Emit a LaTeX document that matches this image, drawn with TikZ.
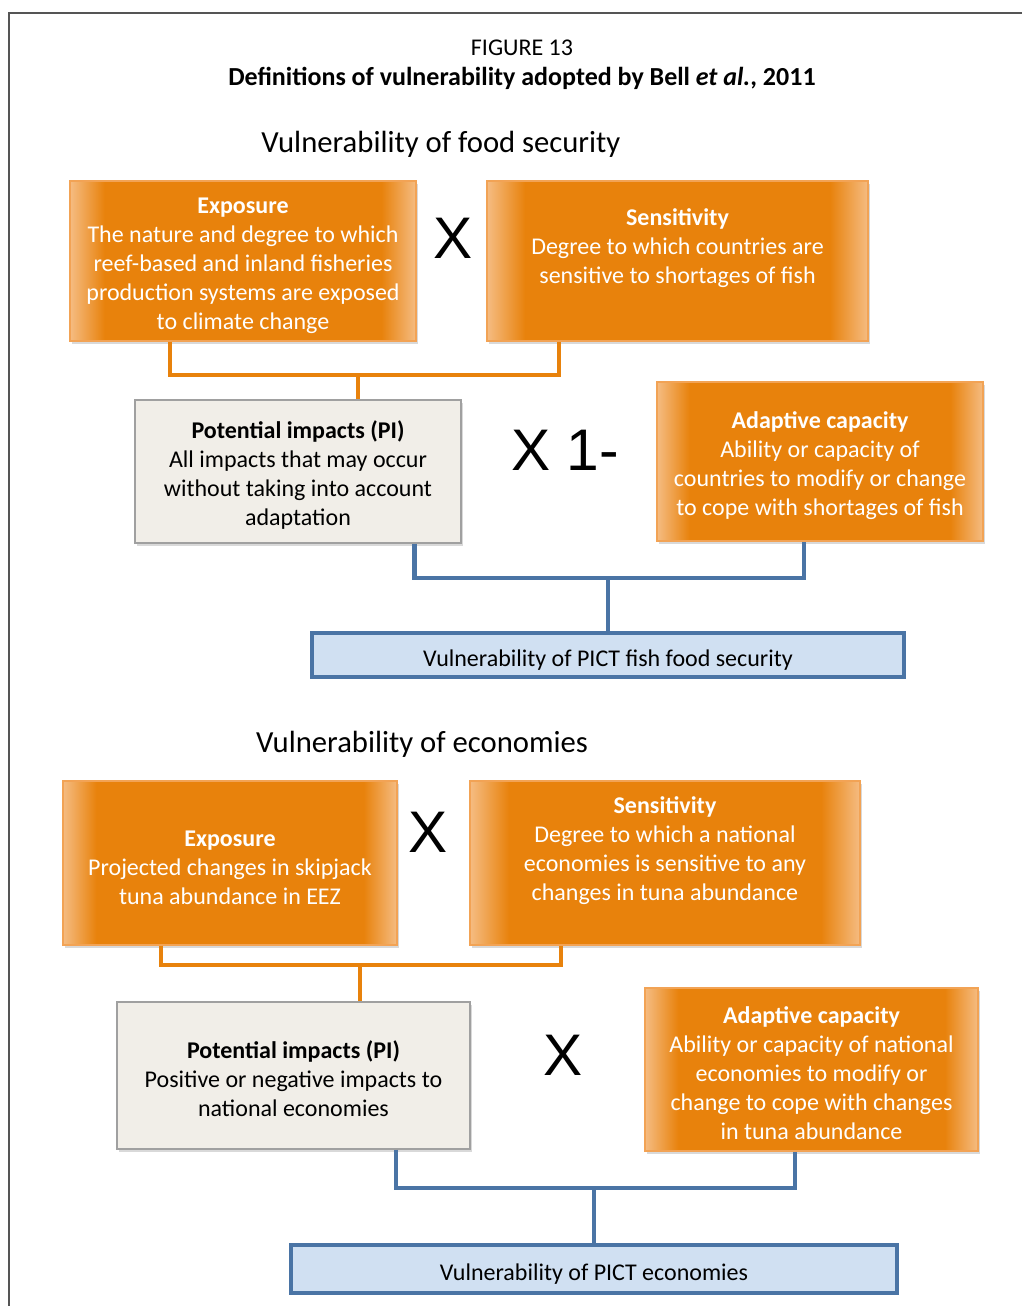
\documentclass[tikz,border=0pt]{standalone}
\usepackage{fontspec}
\setmainfont{Carlito}
\newfontfamily\arialfont{Liberation Sans}
\usetikzlibrary{positioning,shadows,calc}

\definecolor{ormain}{HTML}{E8820C}
\definecolor{orlight}{HTML}{F5BC82}
\definecolor{orline}{HTML}{F2A355}
\definecolor{pifill}{HTML}{F1EEE8}
\definecolor{piline}{HTML}{A0A0A0}
\definecolor{bluefill}{HTML}{D0E0F2}
\definecolor{blueline}{HTML}{4A74A5}
\definecolor{frameline}{HTML}{555555}

\pgfdeclarehorizontalshading{orangeedge}{100bp}{color(0bp)=(orlight); color(25bp)=(orlight); color(30bp)=(ormain); color(70bp)=(ormain); color(75bp)=(orlight); color(100bp)=(orlight)}

% strut on the first line of a box, to sit the text a little lower
\newcommand{\boxstrut}{\rule{0pt}{20pt}}
% bold first line of a box
\newcommand{\hdr}[1]{\rule{0pt}{18.5pt}\textbf{#1}}

\tikzset{
    %Define style for boxes
    factor/.style={
           rectangle,
           draw=orline, line width=1pt,
           shade, shading=orangeedge,
           text=white,
           inner sep=0pt,
           font=\fontsize{18}{21.75}\selectfont,
           align=center,
           drop shadow={shadow xshift=1.5pt, shadow yshift=-2pt, opacity=.3}},
    impact/.style={
           rectangle,
           draw=piline, line width=1pt,
           fill=pifill,
           inner sep=0pt,
           font=\fontsize{18}{21.75}\selectfont,
           align=center,
           drop shadow={shadow xshift=1.5pt, shadow yshift=-2pt, opacity=.3}},
    result/.style={
           rectangle,
           draw=blueline, line width=3.5pt,
           fill=bluefill,
           inner sep=0pt,
           font=\fontsize{18}{21.75}\selectfont,
           align=center,
           execute at begin node=\boxstrut},
    heading/.style={
           font=\fontsize{23}{28}\selectfont},
    times/.style={
           font=\arialfont\fontsize{44}{44}\selectfont},
    % Define connector styles
    orangeline/.style={
           draw=ormain, line width=3pt},
    blueconn/.style={
           draw=blueline, line width=3.2pt}
}

\begin{document}
\begin{tikzpicture}[x=0.75pt,y=-0.75pt]
\useasboundingbox (0,0) rectangle (1022,1306);

 %frame
\draw[frameline, line width=1.5pt] (1022,13) -- (9,13) -- (9,1306);

 %titles
\node[font=\fontsize{18}{21}\selectfont] (figno) at (522,48) {FIGURE 13};
\node[font=\fontsize{19.5}{23}\selectfont\bfseries] (figtitle) at (522,78) {Definitions of vulnerability adopted by Bell \textit{et al.}, 2011};

 %food security nodes
\node[heading] (headA) at (441,144) {Vulnerability of food security};
\node[factor, minimum width=259.5pt, minimum height=120pt] (expA) at (243,261)
  {\hdr{Exposure}\\The nature and degree to which\\reef-based and inland fisheries\\production systems are exposed\\to climate change};
\node[times] (xA) at (453,238) {X};
\node[factor, minimum width=285.75pt, minimum height=120pt] (sensA) at (677.5,261)
  {\textbf{Sensitivity}\\Degree to which countries are\\sensitive to shortages of fish\\\mbox{}};
\node[impact, minimum width=244.5pt, minimum height=107.25pt] (piA) at (298,471.5)
  {\hdr{Potential impacts (PI)}\\All impacts that may occur\\without taking into account\\adaptation};
\node[times] (xoneA) at (565,450) {X 1-};
\node[factor, minimum width=244.5pt, minimum height=119.25pt] (adaA) at (820,461.5)
  {\hdr{Adaptive capacity}\\Ability or capacity of\\countries to modify or change\\to cope with shortages of fish};
\node[result, minimum width=444pt, minimum height=33pt] (vulA) at (608,655)
  {Vulnerability of PICT fish food security};

 %economies nodes
\node[heading] (headB) at (422,744) {Vulnerability of economies};
\node[factor, minimum width=250.5pt, minimum height=123pt] (expB) at (230,863)
  {\hdr{Exposure}\\Projected changes in skipjack\\tuna abundance in EEZ};
\node[times] (xB) at (428,832) {X};
\node[factor, minimum width=292.5pt, minimum height=123pt] (sensB) at (665,863)
  {\textbf{Sensitivity}\\Degree to which a national\\economies is sensitive to any\\changes in tuna abundance\\\mbox{}};
\node[impact, minimum width=264.75pt, minimum height=110.25pt] (piB) at (293.5,1075.5)
  {\hdr{Potential impacts (PI)}\\Positive or negative impacts to\\national economies};
\node[times] (xtwoB) at (563,1055) {X};
\node[factor, minimum width=249.75pt, minimum height=122.25pt] (adaB) at (811.5,1069.5)
  {\hdr{Adaptive capacity}\\Ability or capacity of national\\economies to modify or\\change to cope with changes\\in tuna abundance};
\node[result, minimum width=454.5pt, minimum height=36pt] (vulB) at (594,1269)
  {Vulnerability of PICT economies};

 %connectors
\coordinate (barA) at (358,375);
\coordinate (lowA) at (608,578);
\coordinate (barB) at (360,965);
\coordinate (lowB) at (594,1188);

\draw[orangeline] ($(expA.south west)!.289!(expA.south east)$) |- (barA) -| ($(sensA.south west)!.189!(sensA.south east)$);
\draw[orangeline] (barA) -- (barA |- piA.north);
\draw[blueconn] ($(piA.south west)!.856!(piA.south east)$) |- (lowA) -| ($(adaA.south west)!.451!(adaA.south east)$);
\draw[blueconn] (lowA) -- (vulA.north);

\draw[orangeline] ($(expB.south west)!.293!(expB.south east)$) |- (barB) -| ($(sensB.south west)!.233!(sensB.south east)$);
\draw[orangeline] (barB) -- (barB |- piB.north);
\draw[blueconn] ($(piB.south west)!.79!(piB.south east)$) |- (lowB) -| ($(adaB.south west)!.45!(adaB.south east)$);
\draw[blueconn] (lowB) -- (vulB.north);

\end{tikzpicture}
\end{document}
